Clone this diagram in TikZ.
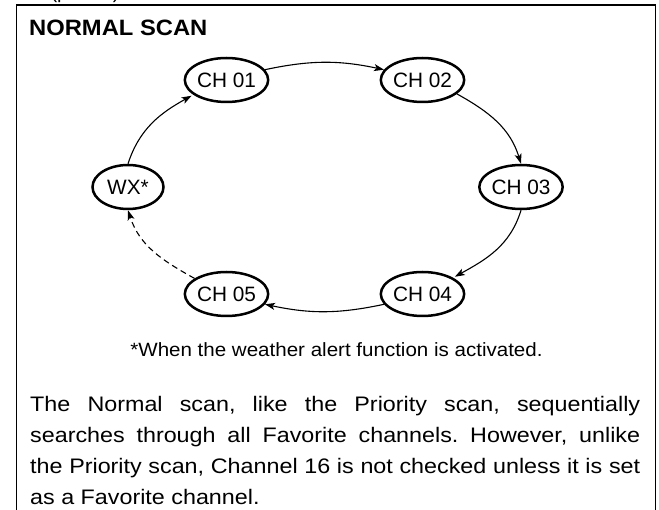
\documentclass[tikz,border=0pt]{standalone}
\usepackage{fontspec}
\setmainfont{Liberation Sans}
\newfontfamily\bodyfont[FakeStretch=1.11]{Liberation Sans}
\newfontfamily\notefont[FakeStretch=1.07]{Liberation Sans}
\newfontfamily\headfont[FakeStretch=1.07]{Liberation Sans}
\usetikzlibrary{arrows.meta,shapes.geometric}
\frenchspacing
\begin{document}
\begin{tikzpicture}[x=1pt,y=1pt,
  chnode/.style={ellipse, draw, line width=2.5pt, minimum width=71pt, minimum height=44pt, inner sep=0pt, font=\fontsize{20.8}{24}\selectfont},
  link/.style={line width=1.1pt, -{Stealth[length=10pt,width=7pt,inset=2.5pt]}},
  frameline/.style={line width=1.5pt}
]
\useasboundingbox (0,0) rectangle (659,-510);
% frame
\draw[frameline] (16.5,-512) -- (16.5,-5) -- (655.5,-5) -- (655.5,-512);
% clipped page reference at the very top
\node[anchor=base, inner sep=0pt, font=\fontsize{20}{24}\selectfont] (pref) at (85,1) {(p. 103)};
% title
\node[anchor=base west, inner sep=0pt, font=\headfont\bfseries\fontsize{22.2}{26}\selectfont] (title) at (29,-36) {NORMAL SCAN};
% channel nodes
\node[chnode] (CH01) at (226.5,-80) {CH 01};
\node[chnode] (CH02) at (422.5,-80) {CH 02};
\node[chnode] (WX)   at (128,-187)  {WX*};
\node[chnode] (CH03) at (521,-187)  {CH 03};
\node[chnode] (CH04) at (422.5,-294) {CH 04};
\node[chnode] (CH05) at (226.5,-294) {CH 05};
% connectors
\draw[link] (CH01.15) to[out=12,in=168] (CH02.165);
\draw[link] (CH02.-22) to[out=-29,in=107] (CH03.north);
\draw[link, shorten >=2pt] (CH03.south) to[out=-107,in=29] (CH04.28);
\draw[link] (CH04.195) to[out=192,in=-12] (CH05.-15);
\draw[link, dashed, dash pattern=on 6pt off 4pt] (CH05.154) to[out=151,in=-72] (WX.south);
\draw[link, shorten >=2pt] (WX.north) to[out=72,in=-151] (CH01.204);
% footnote
\node[anchor=base, inner sep=0pt, font=\notefont\fontsize{19.2}{22}\selectfont] (note) at (336.5,-357) {*When the weather alert function is activated.};
% body text
\node[anchor=north west, inner sep=0pt, text width=610pt, align=justify, font=\bodyfont\fontsize{21}{31}\selectfont] (body) at (30,-396.5) {The Normal scan, like the Priority scan, sequentially\linebreak searches through all Favorite channels. However, unlike\linebreak the Priority scan, Channel 16 is not checked unless it is set\linebreak as a Favorite channel.};
\end{tikzpicture}
\end{document}
